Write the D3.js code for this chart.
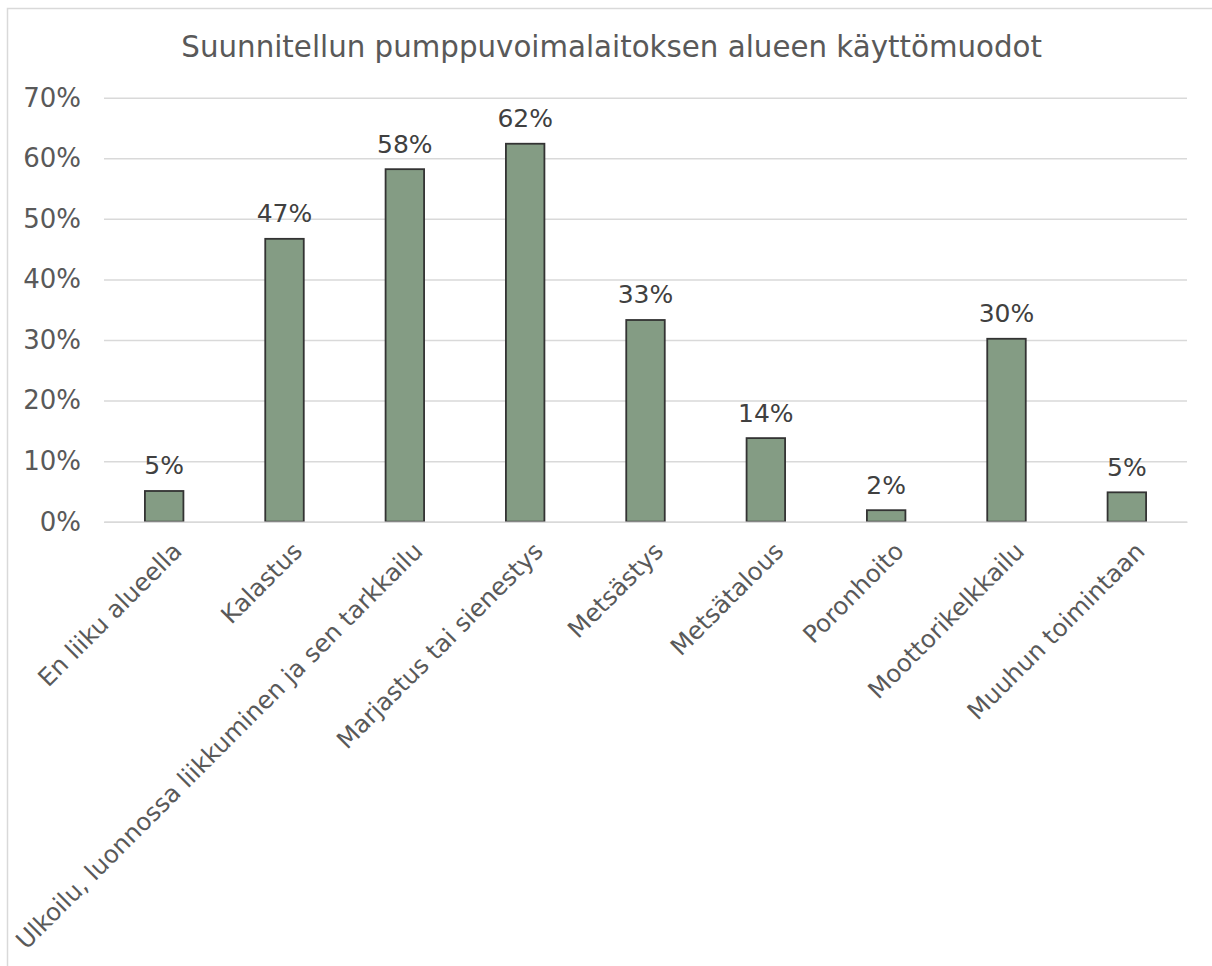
<!DOCTYPE html>
<html><head><meta charset="utf-8">
<script src="https://cdn.jsdelivr.net/npm/d3@7"></script>
<style>body{margin:0;background:#fff}svg{display:block}text{font-family:"DejaVu Sans",Verdana,sans-serif}</style>
</head><body>
<svg id="c" width="1212" height="966"></svg>
<script>
const title = "Suunnitellun pumppuvoimalaitoksen alueen käyttömuodot";
const categories = ["En liiku alueella","Kalastus","Ulkoilu, luonnossa liikkuminen ja sen tarkkailu","Marjastus tai sienestys","Metsästys","Metsätalous","Poronhoito","Moottorikelkkailu","Muuhun toimintaan"];
const values = [0.0507,0.467,0.582,0.624,0.333,0.138,0.019,0.302,0.0485];
const yTicks = [0,0.1,0.2,0.3,0.4,0.5,0.6,0.7];

const svg = d3.select("#c");
svg.append("rect").attr("x",7.5).attr("y",8.5).attr("width",1212).attr("height",970)
  .attr("fill","#fff").attr("stroke","#d9d9d9").attr("stroke-width",1.5);

const m = {left:104,right:1187,top:97.7,bottom:521.7};
const x = d3.scaleBand().domain(categories).range([m.left,m.right]).paddingInner(0.68).paddingOuter(0.34);
const y = d3.scaleLinear().domain([0,0.7]).range([m.bottom,m.top]);

svg.append("text").attr("x",611.7).attr("y",57).attr("text-anchor","middle")
  .attr("font-size",29.3).attr("fill","#595959").text(title);

const gy = svg.append("g").attr("transform",`translate(${m.left},0)`)
  .call(d3.axisLeft(y).tickValues(yTicks).tickFormat(d3.format(".0%")).tickSize(-(m.right-m.left)).tickPadding(23));
gy.select(".domain").remove();
gy.selectAll(".tick line").attr("stroke","#d9d9d9").attr("stroke-width",1.5);
gy.selectAll(".tick text").attr("font-size",26).attr("fill","#595959").attr("font-family","DejaVu Sans");

svg.append("g").selectAll("rect").data(values).join("rect")
  .attr("x",(d,i)=>x(categories[i])).attr("width",x.bandwidth())
  .attr("y",d=>y(d)).attr("height",d=>y(0)-y(d))
  .attr("fill","#849c84").attr("stroke","#333333").attr("stroke-width",1.8);

svg.append("g").selectAll("text").data(values).join("text")
  .attr("x",(d,i)=>x(categories[i])+x.bandwidth()/2).attr("y",d=>y(d)-16.5)
  .attr("text-anchor","middle").attr("font-size",25).attr("fill","#404040")
  .text(d=>d3.format(".0%")(d));

const gx = svg.append("g").attr("transform",`translate(0,${m.bottom})`)
  .call(d3.axisBottom(x).tickSize(0).tickPadding(0));
gx.select(".domain").attr("stroke","#d9d9d9").attr("stroke-width",1.5);
gx.selectAll(".tick text").attr("font-size",24.4).attr("fill","#595959").attr("font-family","DejaVu Sans")
  .attr("text-anchor","end").attr("dy",0).attr("y",0)
  .attr("transform",d=>`translate(${x.bandwidth()/2},${31}) rotate(-45)`);
</script>
</body></html>
